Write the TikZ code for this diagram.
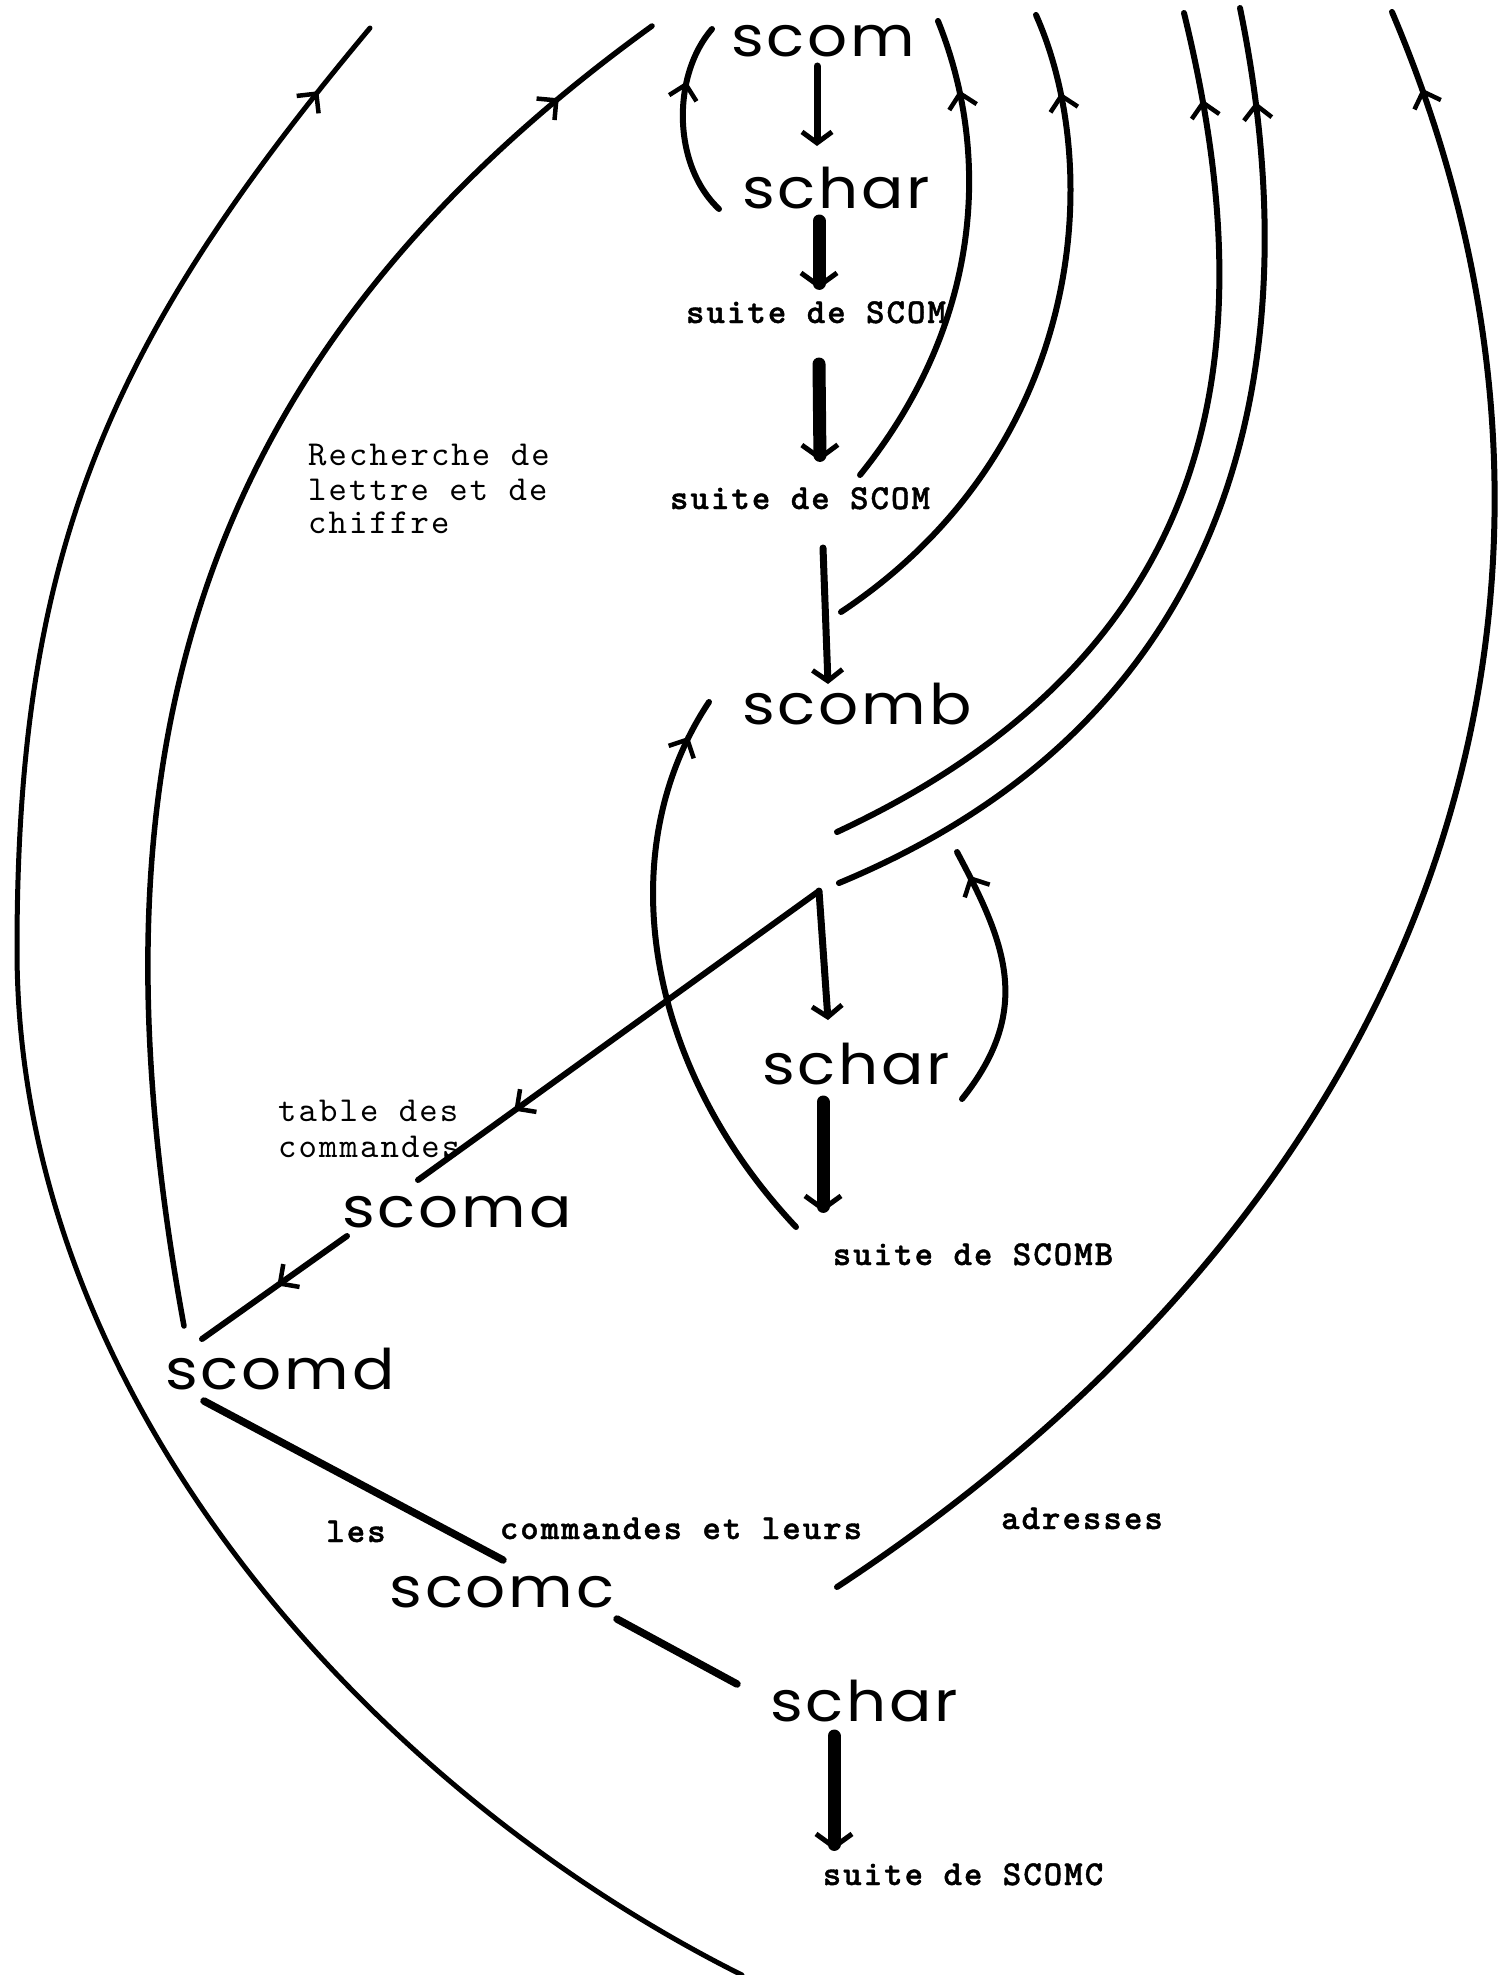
\documentclass[tikz,border=0pt]{standalone}
\usepackage{fontspec}
\usetikzlibrary{arrows.meta,decorations.markings}
\newfontfamily\geo{Poppins}[FakeStretch=1.12,LetterSpace=5]
\newfontfamily\tw{lmmono10-regular.otf}[LetterSpace=6]
\newfontfamily\twb{lmmonolt10-bold.otf}[LetterSpace=6,FakeBold=1.2]
\begin{document}
\begin{tikzpicture}[x=1pt,y=-1pt,line cap=round,line join=round,
  geo/.style={font=\geo\fontsize{56}{56}\selectfont,inner sep=0pt,anchor=base},
  ttr/.style={font=\tw\fontsize{35}{35}\selectfont,inner sep=0pt,anchor=base west},
  ttb/.style={font=\twb\fontsize{35}{35}\selectfont,inner sep=0pt,anchor=base},
  conn/.style={line width=6pt},
  varrow/.style={line width=7pt,-{Straight Barb[length=11pt,width=30pt,line width=5pt]}},
  bigarrow/.style={line width=13pt,-{Straight Barb[length=13pt,width=36pt,line width=5pt]}},
  midarrow/.style={postaction={decorate},decoration={markings,
     mark=at position #1 with {\arrow{Straight Barb[length=14pt,width=28pt,line width=4.5pt]}}}}]
\useasboundingbox[fill=white] (0,0) rectangle (1507,1975);

% ---- nodes ----
\node[geo] (scom)   at (823,57)   {scom};
\node[geo] (schar1) at (836,208)  {schar};
\node[ttb] (s1)     at (816,323)  {suite de SCOM};
\node[ttb] (s2)     at (800,509)  {suite de SCOM};
\node[geo] (scomb)  at (857,724)  {scomb};
\node[geo] (schar2) at (856,1084) {schar};
\node[ttb] (sB)     at (973,1265) {suite de SCOMB};
\node[geo] (scoma)  at (457,1227) {scoma};
\node[geo] (scomd)  at (280,1389) {scomd};
\node[geo] (scomc)  at (502,1607) {scomc};
\node[geo] (schar3) at (864,1721) {schar};
\node[ttb] (sC)     at (963,1885) {suite de SCOMC};
\node[ttr] (rech1)  at (308,465)  {Recherche de};
\node[ttr] (rech2)  at (308,500)  {lettre et de};
\node[ttr] (rech3)  at (308,533)  {chiffre};
\node[ttr] (tab1)   at (278,1121) {table des};
\node[ttr] (tab2)   at (278,1157) {commandes};
\node[ttb] (les)    at (356,1542) {les};
\node[ttb] (cel)    at (681,1539) {commandes et leurs};
\node[ttb] (adr)    at (1082,1529) {adresses};

% ---- connector end points ----
\coordinate (a1s) at (817,66);   \coordinate (a1e) at (817,146);
\coordinate (a2s) at (819,221);  \coordinate (a2e) at (819,289);
\coordinate (a3s) at (819,364);  \coordinate (a3e) at (820,461);
\coordinate (a4s) at (823,548);  \coordinate (a4e) at (828,684);
\coordinate (jn)  at (819,891);  \coordinate (a5e) at (828,1020);
\coordinate (a6s) at (823,1102); \coordinate (a6e) at (823,1212);
\coordinate (a7s) at (834,1736); \coordinate (a7e) at (834,1850);

\coordinate (Ab) at (719,209);  \coordinate (At) at (712,29);
\coordinate (Bb) at (860,475);  \coordinate (Bt) at (938,21);
\coordinate (Cb) at (841,612);  \coordinate (Ct) at (1036,15);
\coordinate (Db) at (837,832);  \coordinate (Dt) at (1184,13);
\coordinate (Eb) at (839,883);  \coordinate (Et) at (1240,8);
\coordinate (Fb) at (837,1587); \coordinate (Ft) at (1392,12);
\coordinate (Gb) at (184,1326); \coordinate (Gt) at (652,26);
\coordinate (Hb) at (742,1975); \coordinate (Hm) at (17,950); \coordinate (Ht) at (370,28);
\coordinate (Ib) at (796,1227); \coordinate (It) at (709,702);
\coordinate (Jb) at (962,1099); \coordinate (Jt) at (957,852);
\coordinate (Ke) at (418,1180);
\coordinate (Ls) at (347,1236); \coordinate (Le) at (202,1339);
\coordinate (Ms) at (204,1401); \coordinate (Me) at (503,1560);
\coordinate (Ns) at (617,1619); \coordinate (Ne) at (737,1684);

% ---- vertical arrows ----
\draw[varrow]   (a1s) -- (a1e);
\draw[bigarrow] (a2s) -- (a2e);
\draw[bigarrow] (a3s) -- (a3e);
\draw[varrow]   (a4s) -- (a4e);
\draw[varrow]   (jn)  -- (a5e);
\draw[bigarrow] (a6s) -- (a6e);
\draw[bigarrow] (a7s) -- (a7e);

% ---- arcs ----
\draw[conn,midarrow=0.7]  (Ab) .. controls (672,165) and (672,75) .. (At);
\draw[conn,midarrow=0.85] (Bb) .. controls (985,320) and (990,150) .. (Bt);
\draw[conn,midarrow=0.88] (Cb) .. controls (1085,450) and (1105,170) .. (Ct);
\draw[conn,midarrow=0.91] (Db) .. controls (1250,640) and (1257,312) .. (Dt);
\draw[conn,midarrow=0.91] (Eb) .. controls (1280,700) and (1300,300) .. (Et);
\draw[conn,midarrow=0.955] (Fb) .. controls (1470,1170) and (1625,560) .. (Ft);
\draw[line width=5.5pt,midarrow=0.92] (Gb) .. controls (80,760) and (190,360) .. (Gt);
\draw[line width=5pt,midarrow=0.965] (Hb) .. controls (372,1790) and (17,1400) .. (Hm)
      .. controls (17,550) and (108,341) .. (Ht);
\draw[conn,midarrow=0.93] (Ib) .. controls (646,1068) and (609,852) .. (It);
\draw[conn,midarrow=0.9]  (Jb) .. controls (1034,1009) and (1005,942) .. (Jt);

% ---- straight lines ----
\draw[conn,midarrow=0.76] (jn) -- (Ke);
\draw[conn,midarrow=0.48] (Ls) -- (Le);
\draw[line width=7.5pt] (Ms) -- (Me);
\draw[line width=7.5pt] (Ns) -- (Ne);
\end{tikzpicture}
\end{document}
